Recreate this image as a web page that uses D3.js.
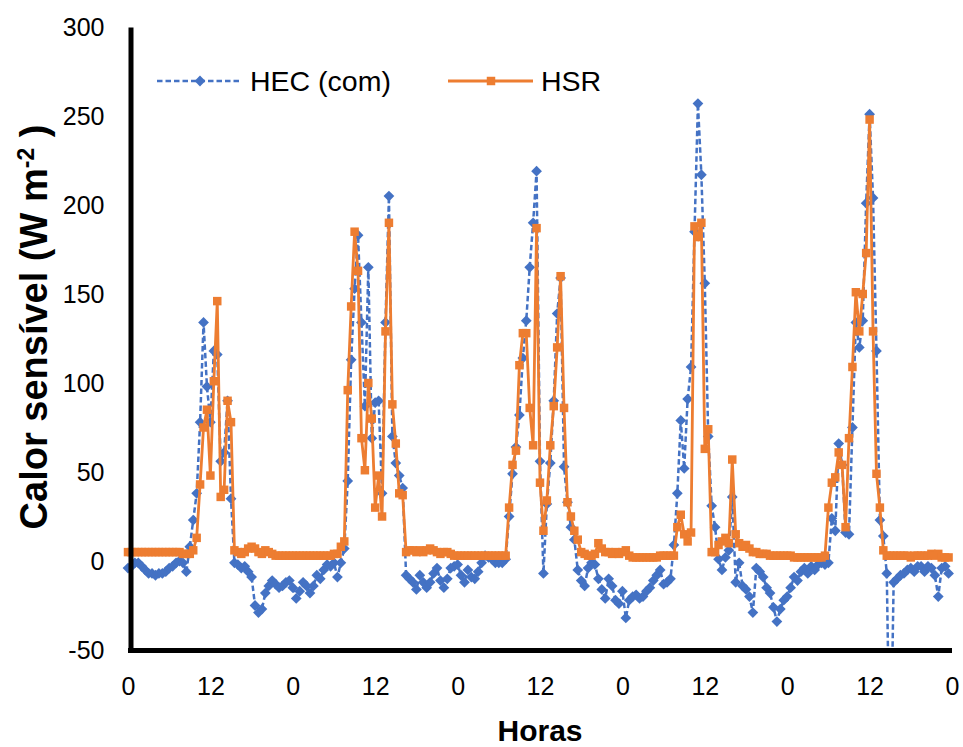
<!DOCTYPE html>
<html>
<head>
<meta charset="utf-8">
<script src="https://cdn.jsdelivr.net/npm/d3@7"></script>
<style>
  body { margin: 0; background: #fff; }
  text { font-family: "Liberation Sans", Arial, sans-serif; fill: #000; }
</style>
</head>
<body>
<div class="graphContainer"></div>
<script>
// Size of the page and the plot area
const w = 963;
const h = 747;
const plotLeft = 128, plotRight = 952, plotTop = 27, plotBottom = 650;

// Half-hourly values, one array per day (48 points each)
const hecDay1 = [-4,-3,-1,-1,-3,-5,-7,-7,-8,-7, -7,-6,-4,-3,-1,0,-1,-6,8,23, 38,78,134,98,78,118,116,56,61,90, 35,-1,-2,-4,-3,-6,-9,-25,-29,-27, -18,-14,-11,-13,-15,-14,-12,-11];
const hecDay2 = [-15,-21,-17,-12,-14,-18,-14,-8,-10,-5, -2,-3,-1,-9,-1,7,45,113,153,183, 134,87,165,69,89,90,38,134,205,70, 55,48,41,-8,-10,-12,-16,-8,-12,-15, -12,-7,-4,-11,-15,-10,-4,-3];
const hecDay3 = [-2,-8,-12,-5,-9,-10,-6,-1,3,2, 1,-1,-1,-1,1,25,49,64,82,114, 135,165,190,219,56,-7,32,55,90,139, 159,53,33,19,12,-5,-11,-14,-4,-1, -2,-10,-16,-21,-10,-14,-22,-24];
const hecDay4 = [-17,-32,-22,-20,-19,-21,-20,-17,-15,-11, -8,-5,-13,-12,-10,9,38,79,52,91, 109,185,257,217,156,70,31,19,1,-5, 2,6,36,-12,-1,-14,-16,-20,-29,-4, -6,-9,-15,-18,-26,-34,-27,-22];
const hecDay5 = [-20,-15,-9,-11,-6,-4,-7,-3,-5,-2, -1,-2,-1,24,17,66,54,16,15,75, 134,120,135,201,251,204,118,23,14,-7, -130,-12,-10,-8,-7,-5,-4,-6,-3,-3, -6,-3,-4,-8,-20,-4,-3,-7];

const hsrDay1 = [5,5,5,5,5,5,5,5,5,5, 5,5,5,5,5,5,4,4,4,6, 13,43,75,85,48,101,146,36,40,90, 78,6,5,4,5,7,8,7,5,4, 6,5,4,3,3,3,3,3];
const hsrDay2 = [3,3,3,3,3,3,3,3,3,3, 3,3,4,4,8,11,96,143,185,163, 69,51,100,80,30,48,25,129,190,88, 66,38,37,5,6,6,5,6,5,6, 7,6,5,4,5,5,4,3];
const hsrDay3 = [3,3,3,3,3,3,3,3,3,3, 3,3,3,3,3,30,54,62,110,128, 128,86,65,187,44,17,34,65,87,120, 160,86,33,25,17,12,5,4,3,3, 4,10,7,5,5,4,5,4];
const hsrDay4 = [5,6,3,2,2,2,2,2,2,2, 2,3,3,3,3,3,19,26,15,11, 16,188,182,190,63,74,5,5,9,11, 13,10,57,15,10,8,9,7,5,5, 4,4,4,3,3,3,3,3];
const hsrDay5 = [3,3,2,2,2,2,2,2,2,2, 2,3,30,44,47,61,54,19,69,109, 151,129,150,173,248,129,49,30,6,3, 3,3,3,3,3,3,2,3,3,3, 3,3,4,3,4,2,2,2];

const hec = [].concat(hecDay1, hecDay2, hecDay3, hecDay4, hecDay5);
const hsr = [].concat(hsrDay1, hsrDay2, hsrDay3, hsrDay4, hsrDay5);

// Axis ticks
const yTicks = [-50, 0, 50, 100, 150, 200, 250, 300];
const xTickSteps = [0, 24, 48, 72, 96, 120, 144, 168, 192, 216, 240];
const xTickLabels = ["0","12","0","12","0","12","0","12","0","12","0"];

const seriesNames = ["HEC (com)", "HSR"];
const blue = "#4472C4";
const orange = "#ED7D31";

const svg = d3.select(".graphContainer").append("svg")
    .attr("width", w)
    .attr("height", h);

svg.append("rect").attr("width", w).attr("height", h).attr("fill", "#fff");

const xScale = d3.scaleLinear().domain([0, 240]).range([plotLeft, plotRight]);
const yScale = d3.scaleLinear().domain([-50, 300]).range([plotBottom, plotTop]);

// clip so values below -50 are cut at the axis like in Excel
svg.append("clipPath").attr("id", "plotClip")
  .append("rect")
    .attr("x", plotLeft - 6).attr("y", plotTop - 6)
    .attr("width", plotRight - plotLeft + 12).attr("height", plotBottom - plotTop + 6);

const plot = svg.append("g").attr("clip-path", "url(#plotClip)");

const line = d3.line()
    .x((d, i) => xScale(i))
    .y(d => yScale(d));

// HEC series: dashed blue line with diamonds
plot.append("path")
    .datum(hec)
    .attr("d", line)
    .attr("fill", "none")
    .attr("stroke", blue)
    .attr("stroke-width", 2.5)
    .attr("stroke-dasharray", "5.5,3");

const diamond = d3.symbol().type(d3.symbolSquare).size(58);
plot.selectAll(".hec")
    .data(hec)
  .enter().append("path")
    .attr("class", "hec")
    .attr("d", diamond)
    .attr("transform", (d, i) => "translate(" + xScale(i) + "," + yScale(d) + ") rotate(45)")
    .attr("fill", blue);

// HSR series: solid orange line with squares
plot.append("path")
    .datum(hsr)
    .attr("d", line)
    .attr("fill", "none")
    .attr("stroke", orange)
    .attr("stroke-width", 2.8);

const square = d3.symbol().type(d3.symbolSquare).size(72);
plot.selectAll(".hsr")
    .data(hsr)
  .enter().append("path")
    .attr("class", "hsr")
    .attr("d", square)
    .attr("transform", (d, i) => "translate(" + xScale(i) + "," + yScale(d) + ")")
    .attr("fill", orange);

// Axes
const yAxis = d3.axisLeft(yScale).tickValues(yTicks).tickSize(0).tickPadding(26)
    .tickFormat(d => String(d));
const xAxis = d3.axisBottom(xScale).tickValues(xTickSteps)
    .tickFormat((d, i) => xTickLabels[i]).tickSize(0).tickPadding(27);

const gy = svg.append("g")
    .attr("transform", "translate(" + (plotLeft + 2.5) + ",0)")
    .call(yAxis);
const gx = svg.append("g")
    .attr("transform", "translate(0," + (plotBottom + 0.5) + ")")
    .call(xAxis);

[gx, gy].forEach(g => {
  g.select(".domain").attr("stroke", "#000").attr("stroke-width", 5);
  g.selectAll("text").style("font-size", "25px").attr("fill", "#000");
});
gx.select(".domain").attr("d", "M" + plotLeft + ",0H" + plotRight);

// Axis titles
svg.append("text")
    .attr("x", 540)
    .attr("y", 741)
    .attr("text-anchor", "middle")
    .style("font-size", "30px")
    .style("font-weight", "bold")
    .text("Horas");

const yTitle = svg.append("text")
    .attr("transform", "translate(47,327) rotate(-90)")
    .attr("text-anchor", "middle")
    .style("font-size", "38px")
    .style("font-weight", "bold");
yTitle.append("tspan").text("Calor sensível (W m");
yTitle.append("tspan").attr("dy", -13).style("font-size", "23px").text("-2");
yTitle.append("tspan").attr("dy", 13).text(" )");

// Legend
const legend = svg.append("g").attr("class", "legend");
const legendItems = [
  {name: seriesNames[0], x: 157, color: blue, dash: "5.5,3", sym: diamond, rot: 45},
  {name: seriesNames[1], x: 448, color: orange, dash: null, sym: square, rot: 0}
];
legendItems.forEach(it => {
  legend.append("line")
      .attr("x1", it.x).attr("x2", it.x + 85)
      .attr("y1", 81).attr("y2", 81)
      .attr("stroke", it.color)
      .attr("stroke-width", it.dash ? 2.5 : 2.8)
      .attr("stroke-dasharray", it.dash);
  legend.append("path")
      .attr("d", it.sym)
      .attr("transform", "translate(" + (it.x + 43) + ",81) rotate(" + it.rot + ")")
      .attr("fill", it.color);
  legend.append("text")
      .attr("x", it.x + 93)
      .attr("y", 81)
      .attr("dy", "0.35em")
      .style("font-size", "28.5px")
      .text(it.name);
});
</script>
</body>
</html>
